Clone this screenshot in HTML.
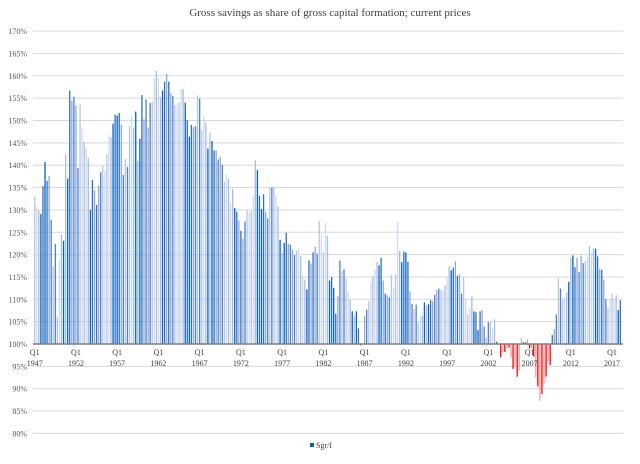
<!DOCTYPE html>
<html><head><meta charset="utf-8"><style>
body{margin:0;background:#fff;}
svg{display:block;font-family:"Liberation Serif",serif;}
</style></head><body>
<svg id="chart" width="640" height="464">
<rect width="640" height="464" fill="#fff"/>
<text x="330" y="16" font-size="11" text-anchor="middle" fill="#404040">Gross savings as share of gross capital formation; current prices</text>
<g id="grid"></g><g id="bars"></g><g id="axes"></g>
<g>
<rect x="310" y="443" width="4" height="4" fill="#0563c1"/>
<text x="316" y="448" font-size="8" fill="#404040">Sgr/I</text>
</g>
</svg>
<script>
const startYear = 1947;
const yTicks = [170,165,160,155,150,145,140,135,130,125,120,115,110,105,100,95,90,85,80];
const values = [
133.0,130.7,129.9,129.1,135.3,140.7,136.5,137.6,127.8,117.3,122.4,106.1,118.9,124.6,123.1,142.5,137.0,156.7,154.4,155.3,
153.4,139.4,153.6,148.1,145.3,143.9,141.6,130.0,136.7,134.4,131.1,135.5,138.4,139.9,138.7,142.5,146.7,146.3,149.3,151.3,
151.1,151.7,149.1,137.8,141.4,139.6,148.7,151.1,148.4,152.0,141.0,145.9,155.7,150.3,154.7,148.4,153.9,154.2,159.5,161.1,
159.5,155.3,156.7,158.7,160.4,158.7,156.2,155.5,153.5,153.5,154.0,157.0,157.0,154.0,150.1,146.4,149.0,148.5,148.7,155.6,
154.9,147.8,150.9,149.6,143.7,147.3,145.4,143.3,143.3,141.3,141.9,140.1,136.3,138.0,137.0,131.6,134.7,130.4,129.6,127.6,
125.3,123.6,127.4,130.0,129.4,129.8,133.1,141.1,138.9,133.1,130.2,133.5,129.6,128.1,135.0,135.0,135.1,133.1,130.7,123.3,
120.4,122.6,124.9,122.4,122.2,121.1,119.9,120.9,121.3,119.6,115.2,114.4,112.2,118.7,118.0,120.5,121.8,120.2,127.5,124.7,
120.5,127.1,124.2,114.2,115.0,112.5,106.8,110.7,118.7,116.3,116.7,114.6,111.8,109.9,107.3,106.4,107.3,103.5,99.7,99.9,
106.2,107.7,109.6,114.0,115.1,116.6,118.4,117.6,119.3,114.2,111.3,110.9,110.4,115.5,112.7,115.6,127.3,120.9,118.3,120.7,
120.5,118.4,111.8,109.0,107.8,108.8,104.8,106.4,106.3,109.3,108.7,108.9,109.8,109.6,111.0,112.1,112.4,112.1,112.0,113.1,
114.9,117.4,116.5,117.1,118.5,115.2,115.6,111.3,115.0,109.9,106.7,108.1,110.7,107.3,107.1,103.1,107.3,107.6,103.9,101.4,
104.9,104.9,103.6,105.5,100.5,100.0,97.0,98.1,98.2,99.0,99.2,97.0,94.4,95.0,92.7,94.1,101.3,100.4,100.4,101.0,
99.0,99.1,97.2,92.6,90.5,87.3,88.8,91.1,92.7,96.1,95.3,102.0,103.3,106.6,114.7,112.4,110.0,110.6,111.6,113.9,
119.3,119.8,117.2,119.3,116.1,119.8,118.1,118.6,119.4,121.9,120.5,121.4,121.3,119.6,116.8,116.6,114.4,110.0,108.1,110.0,
111.3,109.9,110.9,107.6,109.8
];
const NS="http://www.w3.org/2000/svg";
const X0=34.7, STEP=2.062, XL=33, XR=623;
function yPos(v){return 344-(v-100)*4.47;}
function xPos(i){return X0+i*STEP;}
function mk(t,a,p){const e=document.createElementNS(NS,t);for(const k in a)e.setAttribute(k,a[k]);p.appendChild(e);return e;}
const grid=document.getElementById('grid'),bars=document.getElementById('bars'),axes=document.getElementById('axes');
yTicks.forEach(t=>{
  const y=yPos(t);
  if(t!==100){const l=mk('line',{x1:XL,x2:XR,y1:y,y2:y,stroke:'#d9d9d9','stroke-width':1},grid);
  
  }
  const tx=mk('text',{x:27,y:y+3,'font-size':8,'text-anchor':'end',fill:'#595959'},axes);
  tx.textContent=t+'%';
  
  
});
const blues=['#b4c7e7','#8faadc','#0563c1','#d0dbef','#4f81c7','#2e6fc0','#a9bde3'];
values.forEach((v,i)=>{
  const x=xPos(i);
  let c;
  if(v<100){c=(i%2===0)?'#ff0000':'#ff9c9c';}
  else c=blues[(i*3+Math.floor(i/5))%blues.length];
  const y1=yPos(Math.max(v,100)),y2=yPos(Math.min(v,100));
  const r=mk('rect',{x:x-0.65,y:y1,width:1.3,height:Math.max(0.5,y2-y1),fill:c},bars);
  
  
});
const ax=mk('line',{x1:XL,x2:XR,y1:344,y2:344,stroke:'#7f7f7f','stroke-width':1.5},axes);


for(let i=0;i<values.length;i+=20){
  const x=xPos(i);
  const q=mk('text',{x:x,y:355,'font-size':8,'text-anchor':'middle',fill:'#404040'},axes);
  q.textContent='Q1';
  
  
  const yr=mk('text',{x:x,y:366,'font-size':8,'text-anchor':'middle',fill:'#404040'},axes);
  yr.textContent=String(startYear+i/4);
  
  
}
</script>
</body></html>
